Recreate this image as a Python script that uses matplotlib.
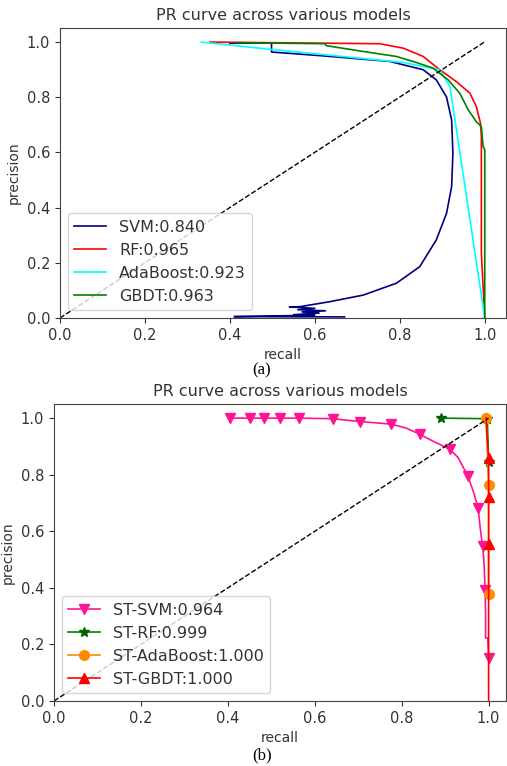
import numpy as np
import matplotlib
matplotlib.use('Agg')
import matplotlib.pyplot as plt

# ---- (a) curvas PR dos modelos base ----
svm_recall = [0.40, 0.498, 0.498, 0.62, 0.776, 0.855, 0.886, 0.91, 0.922, 0.925, 0.922,
              0.91, 0.886, 0.847, 0.792, 0.714, 0.635, 0.565, 0.54, 0.60, 0.56, 0.625,
              0.57, 0.61, 0.55, 0.60, 0.41, 0.67]
svm_precision = [0.995, 0.995, 0.963, 0.949, 0.929, 0.899, 0.862, 0.80, 0.717, 0.597, 0.476,
                 0.379, 0.283, 0.186, 0.126, 0.083, 0.059, 0.041, 0.040, 0.035, 0.030, 0.026,
                 0.022, 0.018, 0.012, 0.010, 0.005, 0.004]

rf_recall = [0.353, 0.753, 0.808, 0.855, 0.894, 0.933, 0.965, 0.98, 0.99, 0.992, 0.992, 1.0]
rf_precision = [0.999, 0.993, 0.977, 0.947, 0.899, 0.856, 0.814, 0.766, 0.705, 0.657, 0.234, 0.0]

ada_recall = [0.333, 0.494, 0.808, 0.894, 0.918, 1.0]
ada_precision = [0.999, 0.973, 0.925, 0.899, 0.838, 0.0]

gbdt_recall = [0.416, 0.624, 0.627, 0.714, 0.792, 0.839, 0.878, 0.914, 0.941, 0.961, 0.98,
               0.992, 0.996, 1.0, 1.0]
gbdt_precision = [0.997, 0.993, 0.986, 0.965, 0.947, 0.925, 0.905, 0.862, 0.814, 0.754, 0.711,
                  0.693, 0.621, 0.609, 0.0]

labels_a = ['SVM:0.840', 'RF:0.965', 'AdaBoost:0.923', 'GBDT:0.963']

# ---- (b) curvas PR dos modelos ST ----
st_svm_recall = [0.406, 0.451, 0.484, 0.52, 0.563, 0.641, 0.704, 0.775, 0.81, 0.842, 0.87,
                 0.911, 0.93, 0.952, 0.965, 0.976, 0.98, 0.986, 0.988, 0.99, 0.992, 0.993,
                 0.993, 0.998, 1.0]
st_svm_precision = [1.0, 1.0, 1.0, 1.0, 1.0, 0.998, 0.988, 0.979, 0.965, 0.943, 0.92,
                    0.89, 0.86, 0.796, 0.74, 0.682, 0.62, 0.548, 0.52, 0.47, 0.393, 0.30,
                    0.223, 0.223, 0.151]
st_svm_marks = [0, 1, 2, 3, 4, 5, 6, 7, 9, 11, 13, 15, 17, 20, 24]

st_rf_recall = [0.891, 0.997, 1.0]
st_rf_precision = [1.0, 0.998, 0.845]

st_ada_recall = [0.994, 1.0, 1.0]
st_ada_precision = [1.0, 0.764, 0.377]

st_gbdt_recall = [0.994, 1.0, 1.0, 1.0, 1.0]
st_gbdt_precision = [1.0, 0.858, 0.72, 0.556, 0.0]
st_gbdt_marks = [1, 2, 3]

labels_b = ['ST-SVM:0.964', 'ST-RF:0.999', 'ST-AdaBoost:1.000', 'ST-GBDT:1.000']

plt.rcParams['font.family'] = 'DejaVu Sans'
plt.rcParams['text.color'] = '#333333'
plt.rcParams['axes.labelcolor'] = '#333333'
plt.rcParams['xtick.color'] = '#333333'
plt.rcParams['ytick.color'] = '#333333'
plt.rcParams['axes.edgecolor'] = '#444444'

fig = plt.figure(figsize=(5.07, 7.66), dpi=100)
ax1 = fig.add_axes([60 / 507, 1 - 318 / 766, 446 / 507, 290 / 766])
ax2 = fig.add_axes([54 / 507, 1 - 701 / 766, 452 / 507, 297 / 766])

# grafico (a)
ax1.plot(svm_recall, svm_precision, color='navy', lw=1.2, label=labels_a[0])
ax1.plot(rf_recall, rf_precision, color='red', lw=1.2, label=labels_a[1])
ax1.plot(ada_recall, ada_precision, color='cyan', lw=1.2, label=labels_a[2])
ax1.plot(gbdt_recall, gbdt_precision, color='green', lw=1.2, label=labels_a[3])
ax1.plot([0, 1], [0, 1], 'k--', lw=1)
ax1.set_xlim(0, 1.05)
ax1.set_ylim(0, 1.05)
ax1.set_title('PR curve across various models', fontsize=11.5)
ax1.set_xlabel('recall', fontsize=10)
ax1.set_ylabel('precision', fontsize=10)
ax1.legend(loc='lower left', fontsize=11.5)

# grafico (b)
ax2.plot(st_svm_recall, st_svm_precision, color='deeppink', lw=1.2, marker='v', ms=7,
         markevery=st_svm_marks, label=labels_b[0])
ax2.plot(st_rf_recall, st_rf_precision, color='green', lw=1.2, marker='*', ms=7,
         mfc='darkgreen', mec='darkgreen', label=labels_b[1])
ax2.plot(st_ada_recall, st_ada_precision, color='darkorange', lw=1.2, marker='o', ms=7,
         label=labels_b[2])
ax2.plot(st_gbdt_recall, st_gbdt_precision, color='red', lw=1.2, marker='^', ms=7,
         markevery=st_gbdt_marks, label=labels_b[3])
ax2.plot([0, 1], [0, 1], 'k--', lw=1)
ax2.set_xlim(0, 1.04)
ax2.set_ylim(0, 1.05)
ax2.set_title('PR curve across various models', fontsize=11.5)
ax2.set_xlabel('recall', fontsize=10)
ax2.set_ylabel('precision', fontsize=10)
ax2.legend(loc='lower left', fontsize=11.5)

for ax in (ax1, ax2):
    ax.set_xticks(np.arange(0, 1.01, 0.2))
    ax.set_yticks(np.arange(0, 1.01, 0.2))
    ax.tick_params(labelsize=10.5)

fig.text(262 / 507, 1 - 370 / 766, '(a)', ha='center', va='center',
         family='Liberation Serif', fontsize=12, color='black')
fig.text(262 / 507, 1 - 755 / 766, '(b)', ha='center', va='center',
         family='Liberation Serif', fontsize=12, color='black')

fig.savefig('out.png', dpi=100)
